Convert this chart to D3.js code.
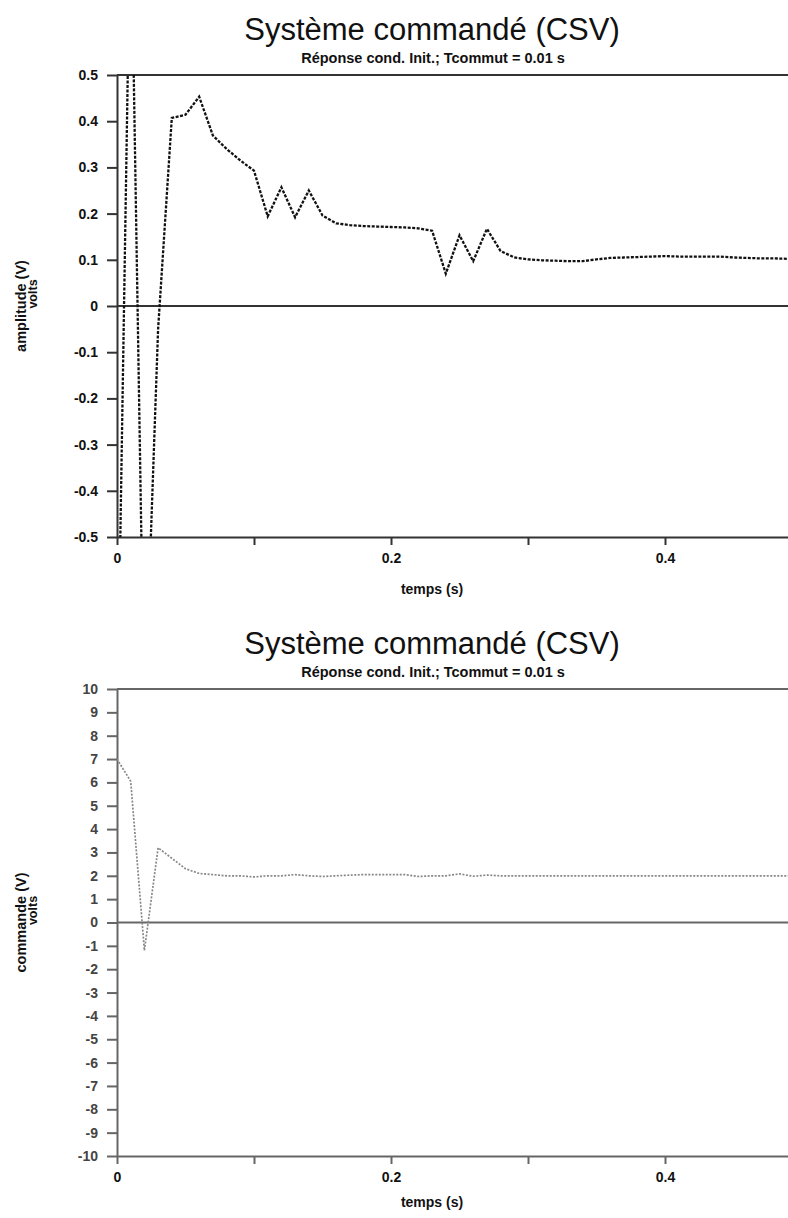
<!DOCTYPE html>
<html>
<head>
<meta charset="utf-8">
<script src="https://cdn.jsdelivr.net/npm/d3@7"></script>
<style>
  body { margin: 0; background: #fff; }
  svg { display: block; }
  text { font-family: "Liberation Sans", Arial, sans-serif; }
</style>
</head>
<body>
<script>
// sample times (s), one sample every Tcommut
var temps = [0, 0.01, 0.02, 0.03, 0.04, 0.05, 0.06, 0.07, 0.08, 0.09,
             0.10, 0.11, 0.12, 0.13, 0.14, 0.15, 0.16, 0.17, 0.18, 0.19,
             0.20, 0.21, 0.22, 0.23, 0.24, 0.25, 0.26, 0.27, 0.28, 0.29,
             0.30, 0.31, 0.32, 0.33, 0.34, 0.35, 0.36, 0.37, 0.38, 0.39,
             0.40, 0.41, 0.42, 0.43, 0.44, 0.45, 0.46, 0.47, 0.48, 0.49, 0.50];

// amplitude (V)
var amplitude = [-0.95, 0.90, -0.90, -0.05, 0.407, 0.414, 0.453, 0.369, 0.340, 0.315,
                 0.293, 0.194, 0.257, 0.192, 0.250, 0.196, 0.179, 0.175, 0.173, 0.172,
                 0.171, 0.170, 0.168, 0.163, 0.070, 0.153, 0.097, 0.167, 0.119, 0.105,
                 0.101, 0.099, 0.098, 0.097, 0.097, 0.101, 0.104, 0.105, 0.106, 0.107,
                 0.108, 0.107, 0.107, 0.107, 0.107, 0.105, 0.104, 0.103, 0.103, 0.102, 0.102];

// commande (V)
var commande = [7.0, 6.05, -1.2, 3.2, 2.75, 2.3, 2.1, 2.05, 2.0, 2.0,
                1.95, 2.0, 2.0, 2.05, 2.0, 1.97, 2.0, 2.03, 2.05, 2.05,
                2.05, 2.05, 1.97, 2.0, 2.0, 2.08, 1.98, 2.03, 2.0, 2.0,
                2.0, 2.0, 2.0, 2.0, 2.0, 2.0, 2.0, 2.0, 2.0, 2.0,
                2.0, 2.0, 2.0, 2.0, 2.0, 2.0, 2.0, 2.0, 2.0, 2.0, 2.0];

var titre = "Système commandé (CSV)";
var sousTitre = "Réponse cond. Init.; Tcommut = 0.01 s";
var xTitre = "temps (s)";

var xTicks = [0, 0.1, 0.2, 0.3, 0.4];
var xTickLabels = ["0", "", "0.2", "", "0.4"];

var ampTicks = [0.5, 0.4, 0.3, 0.2, 0.1, 0, -0.1, -0.2, -0.3, -0.4, -0.5];
var ampTickLabels = ["0.5", "0.4", "0.3", "0.2", "0.1", "0", "-0.1", "-0.2", "-0.3", "-0.4", "-0.5"];

var cmdTicks = [10, 9, 8, 7, 6, 5, 4, 3, 2, 1, 0, -1, -2, -3, -4, -5, -6, -7, -8, -9, -10];
var cmdTickLabels = ["10", "9", "8", "7", "6", "5", "4", "3", "2", "1", "0",
                     "-1", "-2", "-3", "-4", "-5", "-6", "-7", "-8", "-9", "-10"];

var w = 788;
var h = 1218;

var svg = d3.select("body")
            .append("svg")
            .attr("width", w)
            .attr("height", h);

svg.append("rect").attr("width", w).attr("height", h).attr("fill", "#fff");

var xScale = d3.scaleLinear()
               .domain([0, 0.5])
               .range([117, 802]);

function drawChart(opt) {
    var g = svg.append("g");

    var yScale = d3.scaleLinear()
                   .domain([opt.yTicks[opt.yTicks.length - 1], opt.yTicks[0]])
                   .range([opt.bottom, opt.top]);

    // titles
    g.append("text")
     .attr("x", 432)
     .attr("y", opt.top - 35)
     .attr("text-anchor", "middle")
     .attr("font-size", "31px")
     .attr("fill", "#111")
     .text(titre);

    g.append("text")
     .attr("x", 433)
     .attr("y", opt.top - 12)
     .attr("text-anchor", "middle")
     .attr("font-size", "14.5px")
     .attr("font-weight", "bold")
     .attr("fill", "#111")
     .text(sousTitre);

    // frame top + zero line
    g.append("line")
     .attr("x1", 117).attr("x2", w)
     .attr("y1", yScale(opt.yTicks[0])).attr("y2", yScale(opt.yTicks[0]))
     .attr("stroke", opt.axisColor).attr("stroke-width", 2);
    g.append("line")
     .attr("x1", 117).attr("x2", w)
     .attr("y1", yScale(0)).attr("y2", yScale(0))
     .attr("stroke", opt.axisColor).attr("stroke-width", 2);

    var yAxis = d3.axisLeft(yScale)
                  .tickValues(opt.yTicks)
                  .tickFormat(function(d) { return opt.yTickLabels[opt.yTicks.indexOf(d)]; })
                  .tickSize(10)
                  .tickSizeOuter(0)
                  .tickPadding(9);

    var ya = g.append("g")
              .attr("transform", "translate(117,0)")
              .call(yAxis);
    ya.selectAll("path, line").attr("stroke", opt.axisColor).attr("stroke-width", 2);
    ya.selectAll("text")
      .attr("font-size", "14px")
      .attr("font-weight", "bold")
      .attr("fill", opt.labelColor)
      .attr("font-family", "'Liberation Sans', Arial, sans-serif");

    var xAxis = d3.axisBottom(xScale)
                  .tickValues(xTicks)
                  .tickFormat(function(d) { return xTickLabels[xTicks.indexOf(d)]; })
                  .tickSize(8)
                  .tickSizeOuter(0)
                  .tickPadding(8);

    var xa = g.append("g")
              .attr("transform", "translate(0," + opt.bottom + ")")
              .call(xAxis);
    xa.selectAll("path, line").attr("stroke", opt.axisColor).attr("stroke-width", 2);
    xa.selectAll("text")
      .attr("font-size", "14px")
      .attr("font-weight", "bold")
      .attr("fill", "#111")
      .attr("font-family", "'Liberation Sans', Arial, sans-serif");

    g.append("text")
     .attr("x", 432)
     .attr("y", opt.bottom + opt.xTitleGap)
     .attr("text-anchor", "middle")
     .attr("font-size", "14px")
     .attr("font-weight", "bold")
     .attr("fill", "#111")
     .text(xTitre);

    // y titles, rotated
    var mid = yScale(0);
    g.append("text")
     .attr("transform", "translate(26," + mid + ") rotate(-90)")
     .attr("text-anchor", "middle")
     .attr("font-size", "14.5px")
     .attr("font-weight", "bold")
     .attr("fill", "#111")
     .text(opt.yTitle);
    g.append("text")
     .attr("transform", "translate(37," + (mid - 12) + ") rotate(-90)")
     .attr("text-anchor", "middle")
     .attr("font-size", "12.5px")
     .attr("font-weight", "bold")
     .attr("fill", "#111")
     .text("volts");

    // clip the series to the plot frame
    g.append("clipPath")
     .attr("id", opt.id)
     .append("rect")
     .attr("x", 117).attr("y", opt.top)
     .attr("width", w - 117).attr("height", opt.bottom - opt.top);

    var line = d3.line()
                 .x(function(d, i) { return xScale(temps[i]); })
                 .y(function(d) { return yScale(d); });

    g.append("path")
     .datum(opt.values)
     .attr("clip-path", "url(#" + opt.id + ")")
     .attr("d", line)
     .attr("fill", "none")
     .attr("stroke", opt.lineColor)
     .attr("stroke-width", opt.lineWidth)
     .attr("stroke-dasharray", opt.dash);
}

drawChart({
    id: "clipAmp",
    top: 75, bottom: 537, xTitleGap: 57,
    yTicks: ampTicks, yTickLabels: ampTickLabels,
    yTitle: "amplitude (V)",
    values: amplitude,
    axisColor: "#333", labelColor: "#111",
    lineColor: "#111", lineWidth: 2.3, dash: "3,1.5"
});

drawChart({
    id: "clipCmd",
    top: 689, bottom: 1156, xTitleGap: 51,
    yTicks: cmdTicks, yTickLabels: cmdTickLabels,
    yTitle: "commande (V)",
    values: commande,
    axisColor: "#666", labelColor: "#444",
    lineColor: "#888", lineWidth: 1.7, dash: "2,1.5"
});
</script>
</body>
</html>
